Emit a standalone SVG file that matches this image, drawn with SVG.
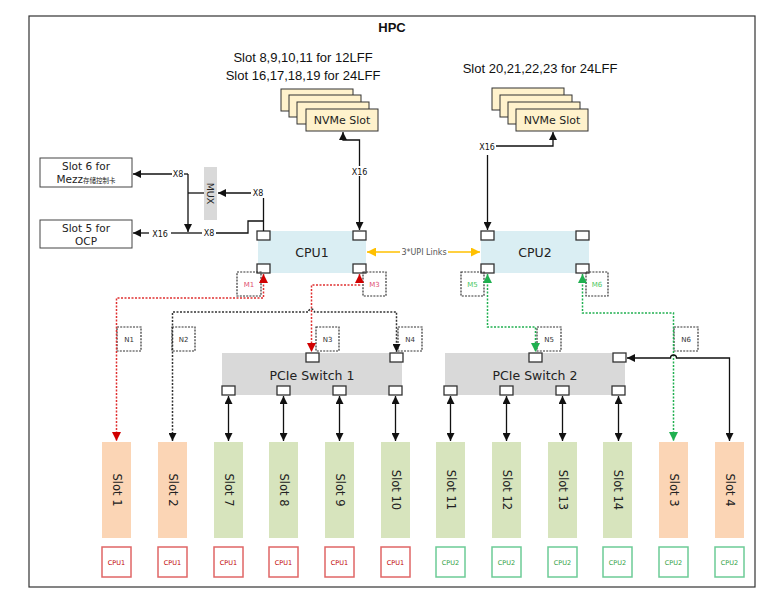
<svg xmlns="http://www.w3.org/2000/svg" width="778" height="592" viewBox="0 0 778 592">
<defs>
<style>
.frame{fill:#fff;stroke:#333;stroke-width:1.2}
.t{font-family:"DejaVu Sans",Verdana,sans-serif;fill:#222;text-anchor:middle}
.tl{font-family:"Liberation Sans",Arial,sans-serif;fill:#111;text-anchor:middle}
.box{fill:#fff;stroke:#444;stroke-width:1}
.port{fill:#fff;stroke:#333;stroke-width:1.3}
.cpu{fill:#DAEEF3}
.sw{fill:#D9D9D9}
.nv{fill:#FFF2CC;stroke:#333;stroke-width:1}
.so{fill:#FBD5B5}
.sg{fill:#D7E4BD}
.tag{fill:none;stroke:#333;stroke-width:1.2;stroke-dasharray:2 1.2}
.tagt{font-family:"DejaVu Sans",Verdana,sans-serif;font-size:7px;text-anchor:middle;fill:#333}
.c1{fill:#fff;stroke:#E06666;stroke-width:1.5}
.c2{fill:#fff;stroke:#6CCB96;stroke-width:1.5}
.c1t{font-family:"DejaVu Sans",sans-serif;font-size:6.5px;fill:#C00000;text-anchor:middle}
.c2t{font-family:"DejaVu Sans",sans-serif;font-size:6.5px;fill:#2E9E3E;text-anchor:middle}
.ln{fill:none;stroke:#111;stroke-width:1.3}
.dk{fill:none;stroke:#333;stroke-width:1.5;stroke-dasharray:2 1.5}
.dr{fill:none;stroke:#E03030;stroke-width:1.5;stroke-dasharray:2 1.5}
.dg{fill:none;stroke:#20B050;stroke-width:1.5;stroke-dasharray:2 1.5}
.up{fill:none;stroke:#FFC000;stroke-width:1.5}
.lab{font-family:"DejaVu Sans",Verdana,sans-serif;font-size:8px;fill:#111;text-anchor:middle}
</style>
<marker id="ak" viewBox="0 0 10 10" refX="10" refY="5" markerWidth="8" markerHeight="8" markerUnits="userSpaceOnUse" orient="auto-start-reverse"><path d="M0,0 L10,5 L0,10 z" fill="#111"/></marker>
<marker id="ar" viewBox="0 0 10 10" refX="10" refY="5" markerWidth="9" markerHeight="9" markerUnits="userSpaceOnUse" orient="auto-start-reverse"><path d="M0,0 L10,5 L0,10 z" fill="#D00000"/></marker>
<marker id="ag" viewBox="0 0 10 10" refX="10" refY="5" markerWidth="9" markerHeight="9" markerUnits="userSpaceOnUse" orient="auto-start-reverse"><path d="M0,0 L10,5 L0,10 z" fill="#20B050"/></marker>
<marker id="ao" viewBox="0 0 10 10" refX="10" refY="5" markerWidth="9" markerHeight="9" markerUnits="userSpaceOnUse" orient="auto-start-reverse"><path d="M0,0 L10,5 L0,10 z" fill="#FFC000"/></marker>
</defs>
<rect width="778" height="592" fill="#fff"/>
<rect class="frame" x="29" y="16" width="726" height="571"/>
<text x="392" y="32" font-family="Liberation Sans,Arial,sans-serif" font-size="13" font-weight="bold" text-anchor="middle" fill="#111">HPC</text>

<g id="nvme-left">
<text class="tl" x="303" y="62" font-size="13">Slot 8,9,10,11 for 12LFF</text>
<text class="tl" x="303" y="80" font-size="13">Slot 16,17,18,19 for 24LFF</text>
<rect class="nv" x="281" y="89" width="72" height="22"/>
<rect class="nv" x="289" y="95" width="72" height="22"/>
<rect class="nv" x="297" y="102" width="72" height="22"/>
<rect class="nv" x="306" y="109" width="72" height="22"/>
<text class="t" x="342" y="124" font-size="11">NVMe Slot</text>
</g>
<g id="nvme-right">
<text class="tl" x="540" y="73" font-size="13">Slot 20,21,22,23 for 24LFF</text>
<rect class="nv" x="492" y="88" width="72" height="22"/>
<rect class="nv" x="500" y="95" width="72" height="22"/>
<rect class="nv" x="508" y="102" width="72" height="22"/>
<rect class="nv" x="516" y="109" width="72" height="22"/>
<text class="t" x="552" y="124" font-size="11">NVMe Slot</text>
</g>

<g id="slot6">
<rect class="box" x="40" y="158" width="92" height="29"/>
<text class="t" x="86" y="170" font-size="10.5">Slot 6 for</text>
<text class="t" x="86" y="183" font-size="10.5">Mezz<tspan font-family="Noto Sans CJK SC,sans-serif" font-size="6.5">存储控制卡</tspan></text>
</g>
<g id="slot5">
<rect class="box" x="40" y="220" width="92" height="28"/>
<text class="t" x="86" y="232" font-size="10.5">Slot 5 for</text>
<text class="t" x="86" y="245" font-size="10.5">OCP</text>
</g>
<g id="mux">
<rect class="sw" x="204" y="167" width="13" height="53"/>
<text class="t" x="0" y="0" font-size="9.5" transform="translate(207,193.5) rotate(90)">MUX</text>
</g>

<g id="cpu1">
<rect class="cpu" x="258" y="231" width="108" height="42"/>
<text class="t" x="312" y="257" font-size="12.5">CPU1</text>
<rect class="port" x="257" y="231" width="13" height="9"/>
<rect class="port" x="353" y="231" width="13" height="9"/>
<rect class="port" x="257" y="264" width="13" height="9"/>
<rect class="port" x="353" y="264" width="13" height="9"/>
</g>
<g id="cpu2">
<rect class="cpu" x="481" y="231" width="108" height="42"/>
<text class="t" x="535" y="257" font-size="12.5">CPU2</text>
<rect class="port" x="481" y="231" width="13" height="9"/>
<rect class="port" x="576" y="231" width="13" height="9"/>
<rect class="port" x="481" y="264" width="13" height="9"/>
<rect class="port" x="576" y="264" width="13" height="9"/>
</g>

<g id="switch1">
<rect class="sw" x="222" y="353" width="180" height="42"/>
<text class="t" x="312" y="380" font-size="12.5">PCIe Switch 1</text>
<rect class="port" x="306" y="353" width="13" height="9"/>
<rect class="port" x="390" y="353" width="13" height="9"/>
<rect class="port" x="222" y="386" width="13" height="9"/>
<rect class="port" x="277" y="386" width="13" height="9"/>
<rect class="port" x="333" y="386" width="13" height="9"/>
<rect class="port" x="389" y="386" width="13" height="9"/>
</g>
<g id="switch2">
<rect class="sw" x="445" y="353" width="180" height="42"/>
<text class="t" x="535" y="380" font-size="12.5">PCIe Switch 2</text>
<rect class="port" x="529" y="353" width="13" height="9"/>
<rect class="port" x="613" y="353" width="13" height="9"/>
<rect class="port" x="444" y="386" width="13" height="9"/>
<rect class="port" x="500" y="386" width="13" height="9"/>
<rect class="port" x="556" y="386" width="13" height="9"/>
<rect class="port" x="612" y="386" width="13" height="9"/>
</g>

<g id="tags">
<rect class="tag" x="237" y="272" width="24" height="24"/><text class="tagt" x="249" y="287" style="fill:#E05070">M1</text>
<rect class="tag" x="363" y="272" width="23" height="24"/><text class="tagt" x="374.5" y="287" style="fill:#E05070">M3</text>
<rect class="tag" x="461" y="272" width="23" height="24"/><text class="tagt" x="472.5" y="287" style="fill:#4CC860">M5</text>
<rect class="tag" x="586" y="272" width="22" height="24"/><text class="tagt" x="597" y="287" style="fill:#4CC860">M6</text>
<rect class="tag" x="117" y="327" width="24" height="24"/><text class="tagt" x="129" y="342">N1</text>
<rect class="tag" x="172" y="327" width="23" height="24"/><text class="tagt" x="183.5" y="342">N2</text>
<rect class="tag" x="316" y="327" width="23" height="24"/><text class="tagt" x="327.5" y="342">N3</text>
<rect class="tag" x="398" y="327" width="24" height="24"/><text class="tagt" x="410" y="342">N4</text>
<rect class="tag" x="537" y="327" width="24" height="24"/><text class="tagt" x="549" y="342">N5</text>
<rect class="tag" x="674" y="327" width="24" height="24"/><text class="tagt" x="686" y="342">N6</text>
</g>

<g id="slots">
<rect class="so" x="102" y="442" width="29" height="96"/><text class="t" font-size="11.5" transform="translate(112.5,490) rotate(90)">Slot 1</text>
<rect class="so" x="158" y="442" width="29" height="96"/><text class="t" font-size="11.5" transform="translate(168.5,490) rotate(90)">Slot 2</text>
<rect class="sg" x="214" y="442" width="29" height="96"/><text class="t" font-size="11.5" transform="translate(224.5,490) rotate(90)">Slot 7</text>
<rect class="sg" x="269" y="442" width="29" height="96"/><text class="t" font-size="11.5" transform="translate(279.5,490) rotate(90)">Slot 8</text>
<rect class="sg" x="325" y="442" width="29" height="96"/><text class="t" font-size="11.5" transform="translate(335.5,490) rotate(90)">Slot 9</text>
<rect class="sg" x="381" y="442" width="29" height="96"/><text class="t" font-size="11.5" transform="translate(391.5,490) rotate(90)">Slot 10</text>
<rect class="sg" x="436" y="442" width="29" height="96"/><text class="t" font-size="11.5" transform="translate(446.5,490) rotate(90)">Slot 11</text>
<rect class="sg" x="492" y="442" width="29" height="96"/><text class="t" font-size="11.5" transform="translate(502.5,490) rotate(90)">Slot 12</text>
<rect class="sg" x="548" y="442" width="29" height="96"/><text class="t" font-size="11.5" transform="translate(558.5,490) rotate(90)">Slot 13</text>
<rect class="sg" x="603" y="442" width="29" height="96"/><text class="t" font-size="11.5" transform="translate(613.5,490) rotate(90)">Slot 14</text>
<rect class="so" x="659" y="442" width="29" height="96"/><text class="t" font-size="11.5" transform="translate(669.5,490) rotate(90)">Slot 3</text>
<rect class="so" x="715" y="442" width="29" height="96"/><text class="t" font-size="11.5" transform="translate(725.5,490) rotate(90)">Slot 4</text>
</g>

<g id="cpu-labels">
<rect class="c1" x="102" y="547" width="29" height="30"/><text class="c1t" x="116.5" y="564.5">CPU1</text>
<rect class="c1" x="158" y="547" width="29" height="30"/><text class="c1t" x="172.5" y="564.5">CPU1</text>
<rect class="c1" x="214" y="547" width="29" height="30"/><text class="c1t" x="228.5" y="564.5">CPU1</text>
<rect class="c1" x="269" y="547" width="29" height="30"/><text class="c1t" x="283.5" y="564.5">CPU1</text>
<rect class="c1" x="325" y="547" width="29" height="30"/><text class="c1t" x="339.5" y="564.5">CPU1</text>
<rect class="c1" x="381" y="547" width="29" height="30"/><text class="c1t" x="395.5" y="564.5">CPU1</text>
<rect class="c2" x="436" y="547" width="29" height="30"/><text class="c2t" x="450.5" y="564.5">CPU2</text>
<rect class="c2" x="492" y="547" width="29" height="30"/><text class="c2t" x="506.5" y="564.5">CPU2</text>
<rect class="c2" x="548" y="547" width="29" height="30"/><text class="c2t" x="562.5" y="564.5">CPU2</text>
<rect class="c2" x="603" y="547" width="29" height="30"/><text class="c2t" x="617.5" y="564.5">CPU2</text>
<rect class="c2" x="659" y="547" width="29" height="30"/><text class="c2t" x="673.5" y="564.5">CPU2</text>
<rect class="c2" x="715" y="547" width="29" height="30"/><text class="c2t" x="729.5" y="564.5">CPU2</text>
</g>

<g id="connectors">
<path class="ln" d="M263.5,231 L263.5,198"/>
<text class="lab" x="258" y="196">X8</text>
<path class="ln" d="M251,193 L218,193" marker-end="url(#ak)"/>
<path class="ln" d="M263.5,221 L248,221 L248,233 L216,233"/>
<text class="lab" x="209" y="236">X8</text>
<path class="ln" d="M202,233 L171,233"/>
<text class="lab" x="160" y="236.5" font-size="9.5">X16</text>
<path class="ln" d="M149,233 L133,233" marker-end="url(#ak)"/>
<path class="ln" d="M204,193 L188,193"/>
<path class="ln" d="M188,174 L188,232" marker-end="url(#ak)"/>
<path class="ln" d="M188,174 L184,174"/>
<text class="lab" x="178" y="177">X8</text>
<path class="ln" d="M172,174 L133,174" marker-end="url(#ak)"/>
<path class="ln" d="M359.5,230 L359.5,140 L343,140 L343,132" marker-start="url(#ak)" marker-end="url(#ak)"/>
<rect x="350" y="166" width="19" height="10" fill="#fff"/>
<text class="lab" x="359.5" y="175">X16</text>
<path class="ln" d="M487.5,155 L487.5,230" marker-end="url(#ak)"/>
<text class="lab" x="487" y="150">X16</text>
<path class="ln" d="M496,146 L553,146 L553,132" marker-end="url(#ak)"/>
<path class="up" d="M367,252 L480,252" marker-start="url(#ao)" marker-end="url(#ao)"/>
<rect x="400" y="247" width="48" height="10" fill="#fff"/>
<text class="lab" x="424" y="255" font-size="7.5" style="fill:#555">3*UPI Links</text>
<path class="dr" d="M263.5,274 L263.5,298 L116.5,298 L116.5,441" marker-start="url(#ar)" marker-end="url(#ar)"/>
<path class="dr" d="M359.5,274 L359.5,285 L311.5,285 L311.5,352" marker-start="url(#ar)" marker-end="url(#ar)"/>
<path class="dk" d="M172.5,441 L172.5,312 L308.5,312 A3,3 0 0 1 314.5,312 L396.5,312 L396.5,352" marker-start="url(#ak)" marker-end="url(#ak)"/>
<path class="dg" d="M487.5,274 L487.5,327 L535.5,327 L535.5,352" marker-start="url(#ag)" marker-end="url(#ag)"/>
<path class="dg" d="M582.5,274 L582.5,313 L673.5,313 L673.5,441" marker-start="url(#ag)" marker-end="url(#ag)"/>
<path class="ln" d="M729.5,441 L729.5,358 L676.5,358 A3,3 0 0 0 670.5,358 L627,358" marker-start="url(#ak)" marker-end="url(#ak)"/>
<path class="ln" d="M228.5,396 L228.5,441" marker-start="url(#ak)" marker-end="url(#ak)"/>
<path class="ln" d="M283.5,396 L283.5,441" marker-start="url(#ak)" marker-end="url(#ak)"/>
<path class="ln" d="M339.5,396 L339.5,441" marker-start="url(#ak)" marker-end="url(#ak)"/>
<path class="ln" d="M395.5,396 L395.5,441" marker-start="url(#ak)" marker-end="url(#ak)"/>
<path class="ln" d="M450.5,396 L450.5,441" marker-start="url(#ak)" marker-end="url(#ak)"/>
<path class="ln" d="M506.5,396 L506.5,441" marker-start="url(#ak)" marker-end="url(#ak)"/>
<path class="ln" d="M562.5,396 L562.5,441" marker-start="url(#ak)" marker-end="url(#ak)"/>
<path class="ln" d="M618.5,396 L618.5,441" marker-start="url(#ak)" marker-end="url(#ak)"/>
</g>
</svg>
